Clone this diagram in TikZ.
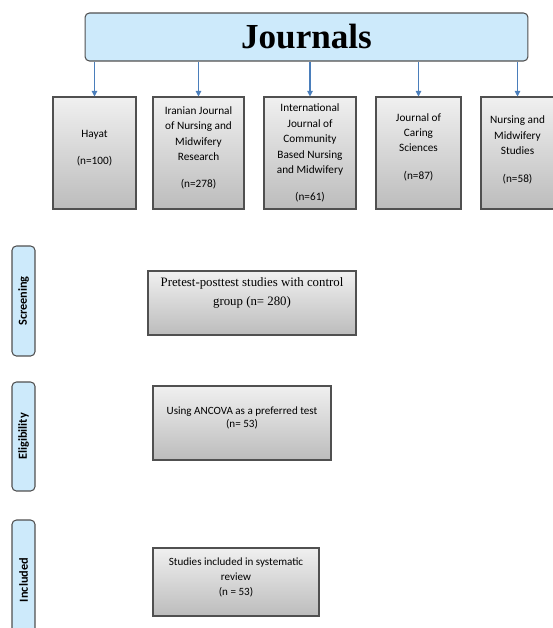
\documentclass[tikz,border=0pt]{standalone}
\usepackage{fontspec}
\setmainfont{Liberation Serif}
\newfontfamily\calibri{Carlito}
\usetikzlibrary{arrows.meta,shadows}
\definecolor{paleblue}{RGB}{205,234,251}
\definecolor{arrowblue}{RGB}{74,126,187}
\definecolor{boxtop}{RGB}{240,240,240}
\definecolor{boxbottom}{RGB}{188,188,188}
\definecolor{edgegray}{RGB}{80,80,80}
\newcommand\boxtext[3]{\parbox[c][#2][c]{#1}{\centering #3}}

\tikzset{
	bluebox/.style={draw=edgegray, line width=0.6pt, fill=paleblue, rounded corners=2.5pt},
	graybox/.style={draw=edgegray, line width=0.6pt, top color=boxtop, bottom color=boxbottom, inner sep=0pt,
		drop shadow={shadow xshift=0.7pt, shadow yshift=-0.7pt, opacity=0.25, fill=black}},
	jfont/.style={font=\calibri\fontsize{6.4}{8.8}\selectfont},
	sidebox/.style={bluebox, rotate=90, minimum height=0.46cm, inner sep=0pt, font=\calibri\bfseries\fontsize{7}{8}\selectfont},
	arr/.style={draw=arrowblue, line width=0.6pt, -{Triangle[width=3.2pt,length=3.2pt]}}
}

\begin{document}
\begin{tikzpicture}[x=0.02cm, y=-0.02cm]
			%%%%% START %%%%%
			
			\clip (0, 0) rectangle (553, 628);
			
			% top box
			\node[bluebox, minimum width=8.86cm, minimum height=0.96cm, font=\bfseries\fontsize{20}{24}\selectfont] (journals) at (306.5, 37) {Journals};
			
			% the five journals
			\node[graybox, jfont] (hayat) at (94.5, 153) {\boxtext{1.66cm}{2.24cm}{Hayat\\[6.5pt](n=100)\par\vspace{5pt}}};
			\node[graybox, jfont] (ijnmr) at (198.5, 153) {\boxtext{1.82cm}{2.24cm}{Iranian Journal\\of Nursing and\\Midwifery\\Research\\[6.5pt](n=278)\par\vspace{6pt}}};
			\node[graybox, jfont] (ijcbnm) at (310, 153) {\boxtext{1.84cm}{2.24cm}{International\\Journal of\\Community\\Based Nursing\\and Midwifery\\[6.5pt](n=61)}};
			\node[graybox, jfont] (jcs) at (418.5, 153) {\boxtext{1.70cm}{2.24cm}{Journal of\\Caring\\Sciences\\[7pt](n=87)\par\vspace{6.5pt}}};
			\node[graybox, jfont] (nms) at (517.5, 153) {\boxtext{1.46cm}{2.24cm}{Nursing and\\Midwifery\\Studies\\[7pt](n=58)\par\vspace{3.5pt}}};
			
			\foreach \j in {hayat, ijnmr, ijcbnm, jcs, nms}
				\draw[arr] (journals.south -| \j.north) -- (\j.north);
			
			% stages
			\node[sidebox, minimum width=2.2cm] (screening) at (23.5, 301) {Screening};
			\node[sidebox, minimum width=2.18cm] (eligibility) at (23.5, 436.5) {Eligibility};
			\node[sidebox, minimum width=2.4cm] (included) at (23.5, 580) {Included};
			
			\node[graybox, font=\fontsize{7.3}{10.8}\selectfont] (pretest) at (252, 303) {\boxtext{4.16cm}{1.28cm}{Pretest-posttest studies with control\\group (n= 280)\par\vspace{11pt}}};
			\node[graybox, font=\calibri\fontsize{6.3}{7.6}\selectfont] (ancova) at (242, 423) {\boxtext{3.56cm}{1.48cm}{Using ANCOVA as a preferred test\\(n= 53)\par\vspace{6pt}}};
			\node[graybox, font=\calibri\fontsize{6.3}{8.5}\selectfont] (review) at (236, 582) {\boxtext{3.32cm}{1.36cm}{Studies included in systematic\\review\\(n = 53)\par\vspace{5pt}}};
			
			%%%%% END %%%%%
\end{tikzpicture}
\end{document}
